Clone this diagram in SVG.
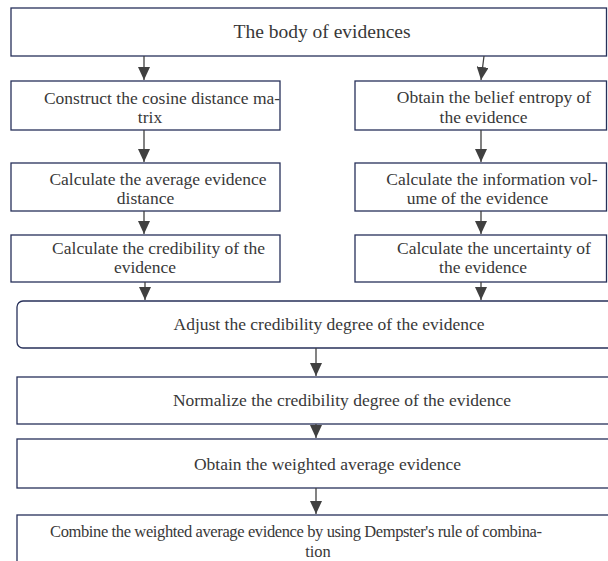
<svg xmlns="http://www.w3.org/2000/svg" width="608" height="561" viewBox="0 0 608 561">
<style>
.box{fill:#fff;stroke:#27305a;stroke-width:1.3}
.c{stroke:#404040;stroke-width:1.3;fill:none}
text{font-family:'Liberation Serif','Times New Roman',serif;font-size:17.5px;fill:#383838;text-anchor:middle}
.big{font-size:19.5px}
.sm{font-size:16.5px}
</style>
<defs>
<marker id="ah" markerWidth="13" markerHeight="12" refX="13" refY="6" orient="auto" markerUnits="userSpaceOnUse">
<path d="M0,0 L13,6 L0,12 Z" fill="#404040"/>
</marker>
</defs>
<rect width="608" height="561" fill="#fff"/>
<g id="n1"><rect class="box" x="11" y="8" width="595.5" height="48"/><text class="big" x="322" y="38">The body of evidences</text></g>
<g id="n2"><rect class="box" x="11" y="81" width="269" height="49"/><text x="162" y="104">Construct the cosine distance ma-</text><text x="150" y="122.5">trix</text></g>
<g id="n3"><rect class="box" x="355" y="81" width="251.5" height="49"/><text x="494" y="103">Obtain the belief entropy of</text><text x="483.5" y="122.5">the evidence</text></g>
<g id="n4"><rect class="box" x="11" y="163" width="269" height="48"/><text x="158" y="185">Calculate the average evidence</text><text x="145.5" y="204">distance</text></g>
<g id="n5"><rect class="box" x="355" y="163" width="251.5" height="48"/><text x="492" y="185">Calculate the information vol-</text><text x="477.5" y="204">ume of the evidence</text></g>
<g id="n6"><rect class="box" x="11" y="235" width="269" height="47"/><text x="158.5" y="254">Calculate the credibility of the</text><text x="145" y="273">evidence</text></g>
<g id="n7"><rect class="box" x="355" y="235" width="251.5" height="47"/><text x="494" y="254">Calculate the uncertainty of</text><text x="483" y="273">the evidence</text></g>
<g id="n8"><rect class="box" x="17" y="301" width="600" height="47" rx="6"/><text x="329" y="330">Adjust the credibility degree of the evidence</text></g>
<g id="n9"><rect class="box" x="17" y="377" width="600" height="47"/><text x="342" y="406">Normalize the credibility degree of the evidence</text></g>
<g id="n10"><rect class="box" x="17" y="439" width="600" height="49"/><text x="327.5" y="470">Obtain the weighted average evidence</text></g>
<g id="n11"><rect class="box" x="17" y="515" width="600" height="60"/><text class="sm" x="296" y="537" textLength="492" lengthAdjust="spacing">Combine the weighted average evidence by using Dempster's rule of combina-</text><text class="sm" x="318" y="557">tion</text></g>
<g id="connectors">
<line class="c" x1="144" y1="56" x2="144" y2="80" marker-end="url(#ah)"/>
<line class="c" x1="484" y1="56" x2="481" y2="80" marker-end="url(#ah)"/>
<line class="c" x1="144" y1="130" x2="144" y2="162" marker-end="url(#ah)"/>
<line class="c" x1="481" y1="130" x2="481" y2="162" marker-end="url(#ah)"/>
<line class="c" x1="144" y1="211" x2="144" y2="234" marker-end="url(#ah)"/>
<line class="c" x1="481" y1="211" x2="481" y2="234" marker-end="url(#ah)"/>
<line class="c" x1="145" y1="282" x2="145" y2="300" marker-end="url(#ah)"/>
<line class="c" x1="481" y1="282" x2="481" y2="300" marker-end="url(#ah)"/>
<line class="c" x1="316" y1="348" x2="316" y2="376" marker-end="url(#ah)"/>
<line class="c" x1="316" y1="424" x2="316" y2="438" marker-end="url(#ah)"/>
<line class="c" x1="316" y1="488" x2="316" y2="514" marker-end="url(#ah)"/>
</g>
</svg>
